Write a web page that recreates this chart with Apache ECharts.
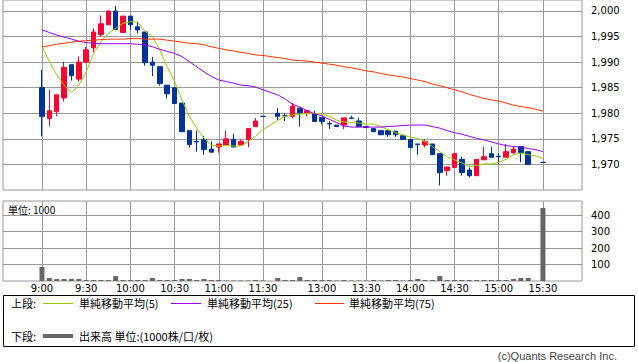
<!DOCTYPE html>
<html><head><meta charset="utf-8">
<script src="https://cdn.jsdelivr.net/npm/echarts@6/dist/echarts.min.js"></script>
<style>html,body{margin:0;padding:0;background:#fff}#c{width:638px;height:362px}</style>
</head><body><div id="c"></div>
<script>
// 5-minute slots (slot after 11:30 is the lunch gap)
const slotTimes = ['9:00','9:05','9:10','9:15','9:20','9:25','9:30','9:35','9:40','9:45','9:50','9:55',
 '10:00','10:05','10:10','10:15','10:20','10:25','10:30','10:35','10:40','10:45','10:50','10:55',
 '11:00','11:05','11:10','11:15','11:20','11:25','11:30','',
 '12:30','12:35','12:40','12:45','12:50','12:55',
 '13:00','13:05','13:10','13:15','13:20','13:25','13:30','13:35','13:40','13:45','13:50','13:55',
 '14:00','14:05','14:10','14:15','14:20','14:25','14:30','14:35','14:40','14:45','14:50','14:55',
 '15:00','15:05','15:10','15:15','15:20','15:25','15:30'];
const timeTicks = ['9:00','9:30','10:00','10:30','11:00','11:30','13:00','13:30','14:00','14:30','15:00','15:30'];
const priceTicks = [1970,1975,1980,1985,1990,1995,2000];
const volTicks = [100,200,300,400];

const openP = [1985,1979,1980.3,1983,1989.5,1986.7,1990,1992.8,1995.4,1997.3,2000,1995.8,1999,1996.9,1995.9,1990,1989.1,1985.5,1985,1982,1976.6,1974.5,1974.9,1973,1973.4,1973.8,1974.9,1973.8,1974.9,1977.4,1979.4,null,
 1980,1979.5,1979.4,1981,1980,1979.9,1979.2,1978,1977.7,1977.7,1979.1,1978.5,1977.4,1977,1976.6,1976.6,1976.5,1975.6,1974.9,1974,1973.8,1974,1972.1,1968.8,1969.4,1971,1968.9,1967.8,1970.9,1972.1,1971.6,1971.4,1972.3,1973.5,1972.5,null,1970.4];
const closeP = [1979.4,1980.5,1983.6,1989,1987.4,1990,1992.4,1995.9,1997.5,2000,1996.4,1999,1997.3,1996.3,1989.9,1989.4,1985.8,1983.8,1981.9,1976.4,1973.9,1974.4,1972.9,1972.4,1974,1975,1973.4,1974.5,1977,1978.5,1979.4,null,
 1979.4,1979.5,1981.4,1980.1,1980.5,1978.4,1978.4,1977.9,1977.4,1979.1,1979,1977.4,1977.2,1976.4,1975.8,1975.8,1975.8,1974.9,1973.3,1973.9,1974.5,1971.9,1968.4,1969.5,1972.1,1968.4,1967.8,1971,1971.5,1971.4,1971.5,1972.5,1973,1972.3,1970,null,1970.4];
const lowP = [1975.5,1977.5,1979.4,1982.3,1986.4,1986.2,1989.9,1991.9,1995,1997.3,1996.4,1995.8,1996.3,1995.6,1989.3,1987.3,1985.4,1982.9,1981.9,1976.4,1973.3,1972.5,1971.9,1972.4,1972.3,1973.8,1973.4,1973.8,1973.4,1977.4,1979.4,null,
 1978.6,1978.5,1979,1977.4,1979.4,1978.4,1977.8,1976.9,1977.4,1976.9,1979,1977.4,1977.2,1976.4,1975.8,1975.4,1975.4,1974.9,1973.3,1971.9,1973.3,1971.9,1965.9,1967.8,1969.4,1967.8,1967.4,1967.8,1970.9,1971.4,1970,1971.4,1972,1970.4,1970,null,1970.4];
const highP = [1988.5,1984.6,1983.6,1990.1,1989.5,1991.1,1993,1996.6,1999.1,2000,2001,1999,1999,1997.9,1995.9,1991,1989.1,1985.5,1985,1982,1976.6,1976.6,1975.6,1974.5,1974,1976.6,1976,1974.9,1977,1979.1,1979.4,null,
 1981,1980,1982,1981.2,1980.5,1980.5,1979.2,1978.5,1977.7,1979.1,1979.5,1979.1,1977.4,1977,1976.6,1976.6,1976.5,1975.6,1974.9,1974,1974.9,1974,1972.1,1969.5,1972.1,1971.5,1969.4,1971,1973.5,1973.5,1972.1,1974,1973.5,1973.5,1972.5,null,1970.4];
const volume = [85,18,12,12,12,12,6,6,6,6,30,6,6,6,6,18,6,6,6,12,12,6,12,6,6,3,3,3,3,6,3,null,
 18,6,6,24,6,6,6,6,3,6,3,3,3,6,3,6,6,3,6,12,6,6,30,6,6,6,6,6,6,6,6,6,12,18,18,null,443];
const ma5 = [1993.2,1990.1,1987.5,1985.5,1984.0,1985.5,1988.1,1991.7,1994.0,1995.6,1996.6,1997.6,1997.9,1997.8,1996.0,1995.0,1992.4,1989.1,1986.2,1982.6,1979.4,1977.1,1975.1,1973.8,1973.6,1973.7,1973.6,1973.6,1974.5,1975.5,1976.8,null,
 1978.6,1979.4,1979.7,1979.8,1980.0,1980.0,1979.8,1979.4,1978.7,1978.3,1978.2,1978.1,1977.9,1977.9,1977.4,1976.8,1976.2,1975.8,1975.3,1975.1,1974.5,1973.5,1972.5,1971.5,1970.9,1970.3,1969.6,1969.8,1970.1,1970.1,1970.4,1971.0,1971.9,1972.2,1971.9,1971.7,1971.2];
const ma25 = [1996.3,1995.8,1995.3,1994.9,1994.5,1994.1,1993.8,1993.7,1993.6,1993.6,1993.6,1993.6,1993.6,1993.5,1993.4,1993.0,1992.5,1992.1,1991.7,1991.1,1990.1,1989.1,1988.1,1987.2,1986.5,1986.2,1985.9,1985.5,1985.4,1985.1,1984.6,null,
 1983.6,1982.8,1981.8,1981.2,1980.5,1979.9,1979.5,1978.8,1978.2,1977.5,1977.3,1977.3,1977.3,1977.3,1977.3,1977.4,1977.5,1977.6,1977.7,1977.7,1977.7,1977.4,1977.1,1976.6,1976.2,1975.9,1975.5,1975.1,1974.8,1974.4,1974.0,1973.7,1973.5,1973.4,1973.1,1972.9,1972.5];
const ma75 = [1993.0,1993.2,1993.5,1993.7,1993.9,1994.1,1994.2,1994.3,1994.4,1994.5,1994.5,1994.5,1994.6,1994.6,1994.5,1994.5,1994.5,1994.3,1994.1,1993.9,1993.7,1993.6,1993.4,1993.0,1992.7,1992.4,1992.2,1991.9,1991.7,1991.4,1991.3,null,
 1990.9,1990.7,1990.4,1990.3,1990.2,1990.0,1989.8,1989.6,1989.4,1989.1,1988.9,1988.6,1988.3,1988.1,1987.8,1987.5,1987.3,1987.1,1986.8,1986.5,1986.2,1985.7,1985.4,1985.0,1984.6,1984.2,1983.7,1983.3,1982.9,1982.6,1982.4,1982.0,1981.6,1981.3,1981.1,1980.8,1980.4];

const candles = [];
slotTimes.forEach((t, i) => { if (openP[i] != null) candles.push([i, openP[i], closeP[i], lowP[i], highP[i]]); });
const pts = arr => arr.map((v, i) => v == null ? null : [i, v]).filter(Boolean);
const tickPos = timeTicks.map(l => slotTimes.indexOf(l));

const FONT = 'DejaVu Sans';
const JP = '"Noto Sans CJK JP", sans-serif';
const grey = '#999999';
const xBase = {
  type: 'value', min: -5.29, max: 73.3,
  axisLine: { show: false },
  axisTick: { show: false, customValues: tickPos },
  splitLine: { show: true, lineStyle: { color: grey, width: 1 } }
};
const chart = echarts.init(document.getElementById('c'), null, { renderer: 'svg' });
chart.setOption({
  animation: false,
  backgroundColor: '#fff',
  grid: [
    { left: 3, top: 0, width: 579, height: 190, show: true, borderColor: grey, borderWidth: 1, containLabel: false },
    { left: 3, top: 201, width: 579, height: 80, show: true, borderColor: grey, borderWidth: 1, containLabel: false }
  ],
  xAxis: [
    Object.assign({}, xBase, { gridIndex: 0, axisLabel: { show: false } }),
    Object.assign({}, xBase, { gridIndex: 1, axisLabel: { show: true, customValues: tickPos, formatter: v => slotTimes[Math.round(v)], margin: 2, fontSize: 10, fontFamily: FONT, color: '#000' } })
  ],
  yAxis: [
    { gridIndex: 0, type: 'value', position: 'right', min: 1965, max: 2002.15,
      axisLine: { show: false },
      axisTick: { show: true, length: 5, lineStyle: { color: grey }, customValues: priceTicks },
      splitLine: { show: true, lineStyle: { color: grey } },
      axisLabel: { customValues: priceTicks, formatter: v => v.toLocaleString('en-US'), fontSize: 10, fontFamily: FONT, color: '#000', margin: 9 } },
    { gridIndex: 1, type: 'value', position: 'right', min: 0, max: 485,
      axisLine: { show: false },
      axisTick: { show: true, length: 5, lineStyle: { color: grey }, customValues: volTicks },
      splitLine: { show: true, lineStyle: { color: grey } },
      axisLabel: { customValues: volTicks, fontSize: 10, fontFamily: FONT, color: '#000', margin: 9 } }
  ],
  series: [
    { type: 'candlestick', xAxisIndex: 0, yAxisIndex: 0, data: candles, encode: { x: 0, y: [1, 2, 3, 4] },
      barWidth: 5,
      itemStyle: { color: '#ff0033', color0: '#003399', borderColor: '#ff0033', borderColor0: '#003399', borderColorDoji: '#003399', borderWidth: 1 } },
    { type: 'line', name: '単純移動平均(5)', xAxisIndex: 0, yAxisIndex: 0, data: pts(ma5), showSymbol: false, symbol: 'none', connectNulls: true, lineStyle: { color: '#99cc00', width: 1 }, z: 3 },
    { type: 'line', name: '単純移動平均(25)', xAxisIndex: 0, yAxisIndex: 0, data: pts(ma25), showSymbol: false, symbol: 'none', connectNulls: true, lineStyle: { color: '#9900ff', width: 1 }, z: 3 },
    { type: 'line', name: '単純移動平均(75)', xAxisIndex: 0, yAxisIndex: 0, data: pts(ma75), showSymbol: false, symbol: 'none', connectNulls: true, lineStyle: { color: '#ff3300', width: 1 }, z: 3 },
    { type: 'bar', name: '出来高', xAxisIndex: 1, yAxisIndex: 1, data: pts(volume), barWidth: 5, itemStyle: { color: '#666666' } }
  ],
  graphic: [
    { type: 'text', left: 8, top: 204, style: { text: '単位: 1000', font: '10px ' + JP, fill: '#000' } },
    { type: 'rect', shape: { x: 3.5, y: 295.5, width: 631, height: 51 }, style: { fill: 'none', stroke: '#000', lineWidth: 1 } },
    { type: 'text', x: 11, y: 303, style: { text: '上段:', font: '11px ' + JP, fill: '#000', verticalAlign: 'middle' } },
    { type: 'line', shape: { x1: 43, y1: 303.5, x2: 73, y2: 303.5 }, style: { stroke: '#99cc00', lineWidth: 1 } },
    { type: 'text', x: 79, y: 303, style: { text: '単純移動平均(5)', font: '11px ' + JP, fill: '#000', verticalAlign: 'middle' } },
    { type: 'line', shape: { x1: 171, y1: 303.5, x2: 201, y2: 303.5 }, style: { stroke: '#9900ff', lineWidth: 1 } },
    { type: 'text', x: 207, y: 303, style: { text: '単純移動平均(25)', font: '11px ' + JP, fill: '#000', verticalAlign: 'middle' } },
    { type: 'line', shape: { x1: 315, y1: 303.5, x2: 344, y2: 303.5 }, style: { stroke: '#ff3300', lineWidth: 1 } },
    { type: 'text', x: 349, y: 303, style: { text: '単純移動平均(75)', font: '11px ' + JP, fill: '#000', verticalAlign: 'middle' } },
    { type: 'text', x: 11, y: 336, style: { text: '下段:', font: '11px ' + JP, fill: '#000', verticalAlign: 'middle' } },
    { type: 'line', shape: { x1: 43, y1: 336, x2: 73, y2: 336 }, style: { stroke: '#666666', lineWidth: 4 } },
    { type: 'text', x: 79, y: 336, style: { text: '出来高 単位:(1000株/口/枚)', font: '11px ' + JP, fill: '#000', verticalAlign: 'middle' } },
    { type: 'text', x: 617, y: 356, style: { text: '(c)Quants Research Inc.', font: '11px "Liberation Sans", sans-serif', fill: '#444', align: 'right', verticalAlign: 'middle' } }
  ]
});
</script></body></html>
